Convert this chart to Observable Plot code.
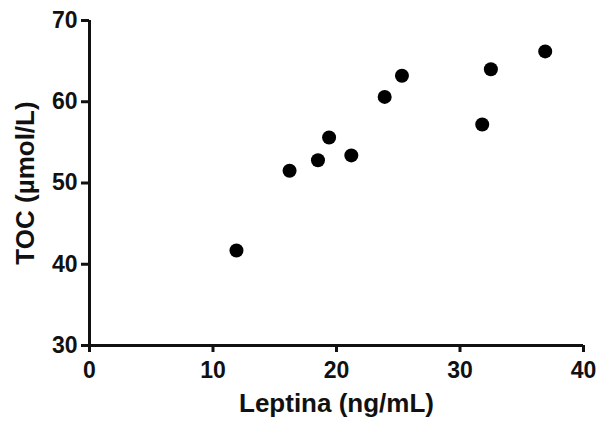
<!DOCTYPE html>
<html>
<head>
<meta charset="utf-8">
<script src="https://cdn.jsdelivr.net/npm/d3@7"></script>
<script src="https://cdn.jsdelivr.net/npm/@observablehq/plot@0.6"></script>
<style>
  html, body { margin: 0; padding: 0; background: #fff; }
</style>
</head>
<body>
<div id="chart"></div>
<script>
const leptina = [11.9, 16.2, 18.5, 19.4, 21.2, 23.9, 25.3, 31.8, 32.5, 36.9];
const toc     = [41.7, 51.5, 52.8, 55.6, 53.4, 60.6, 63.2, 57.2, 64.0, 66.2];
const xTicks = [0, 10, 20, 30, 40];
const yTicks = [30, 40, 50, 60, 70];
const xLabel = "Leptina (ng/mL)";
const yLabel = "TOC (µmol/L)";

const data = leptina.map((x, i) => ({x, y: toc[i]}));

const chart = Plot.plot({
  width: 597,
  height: 421,
  marginLeft: 89,
  marginRight: 14,
  marginTop: 20,
  marginBottom: 76,
  style: {fontFamily: "'Liberation Sans', Arial, sans-serif", fontWeight: "bold", color: "#111", background: "#fff"},
  x: {domain: [0, 40]},
  y: {domain: [30, 70]},
  marks: [
    Plot.axisX(xTicks, {tickSize: 7, strokeWidth: 3, tickPadding: 9, fontSize: 23, label: null}),
    Plot.axisY(yTicks, {tickSize: 8, strokeWidth: 3, tickPadding: 4, fontSize: 23, label: null}),
    Plot.axisX({ticks: [], label: xLabel, labelAnchor: "center", labelArrow: "none", labelOffset: 66, fontSize: 26}),
    Plot.axisY({ticks: [], label: yLabel, labelAnchor: "center", labelArrow: "none", labelOffset: 74, fontSize: 26}),
    Plot.ruleX([0], {strokeWidth: 3, stroke: "#111"}),
    Plot.ruleY([30], {strokeWidth: 3, stroke: "#111"}),
    Plot.dot(data, {x: "x", y: "y", r: 7, fill: "#000", stroke: null})
  ]
});
document.getElementById("chart").appendChild(chart);
</script>
</body>
</html>
